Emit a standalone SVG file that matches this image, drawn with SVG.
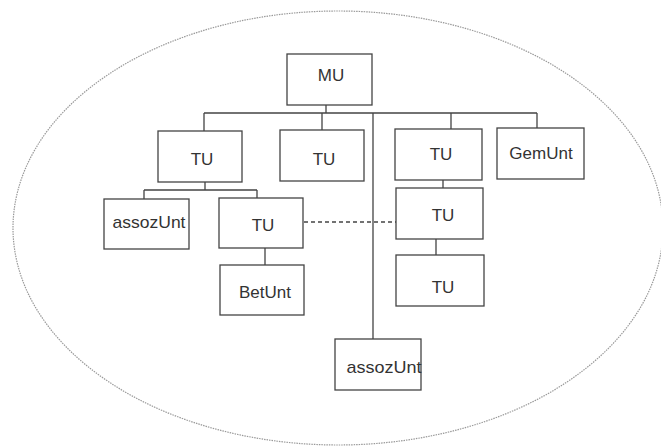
<svg xmlns="http://www.w3.org/2000/svg" width="661" height="447" viewBox="0 0 661 447">
<style>
.box{fill:#fff;stroke:#444;stroke-width:1.3}
.lbl{font-family:"Liberation Sans",Arial,sans-serif;font-size:17px;fill:#333;text-anchor:middle}
.ln{stroke:#444;stroke-width:1.3;fill:none}
.dash{stroke:#444;stroke-width:1.3;fill:none;stroke-dasharray:4 3}
</style>
<rect width="661" height="447" fill="#fff"/>
<ellipse id="boundary" cx="338" cy="228" rx="325" ry="217" fill="none" stroke="#999" stroke-width="1.2" stroke-dasharray="1.5 1"/>
<g id="connectors">
<path class="ln" d="M326,105 V113 M204,113 H537 M204,113 V131 M322,113 V130 M451,113 V129 M537,113 V128 M373,113 V339"/>
<path class="ln" d="M205,182 V190 M144,190 H257 M144,190 V199 M257,190 V198 M265,248 V265"/>
<path class="ln" d="M443,180 V188 M436,239 V255"/>
<path class="dash" d="M304,222 H396"/>
</g>
<g id="mu"><rect class="box" x="287" y="54" width="85" height="51"/><text class="lbl" x="331" y="81">MU</text></g>
<g id="tu1"><rect class="box" x="158" y="131" width="84" height="51"/><text class="lbl" x="202" y="165">TU</text></g>
<g id="tu2"><rect class="box" x="280" y="130" width="84" height="51"/><text class="lbl" x="324" y="165">TU</text></g>
<g id="tu3"><rect class="box" x="395" y="129" width="87" height="51"/><text class="lbl" x="441" y="160">TU</text></g>
<g id="gemunt"><rect class="box" x="497" y="128" width="87" height="51"/><text class="lbl" x="541" y="159">GemUnt</text></g>
<g id="assozunt1"><rect class="box" x="104" y="199" width="85" height="50"/><text class="lbl" x="149" y="228" textLength="73" lengthAdjust="spacingAndGlyphs">assozUnt</text></g>
<g id="tu4"><rect class="box" x="219" y="198" width="84" height="50"/><text class="lbl" x="263" y="231">TU</text></g>
<g id="betunt"><rect class="box" x="220" y="265" width="84" height="50"/><text class="lbl" x="265" y="298">BetUnt</text></g>
<g id="tu5"><rect class="box" x="396" y="188" width="87" height="51"/><text class="lbl" x="443" y="221">TU</text></g>
<g id="tu6"><rect class="box" x="396" y="255" width="88" height="51"/><text class="lbl" x="443" y="293">TU</text></g>
<g id="assozunt2"><rect class="box" x="335" y="339" width="86" height="51"/><text class="lbl" x="384" y="373" textLength="75" lengthAdjust="spacingAndGlyphs">assozUnt</text></g>
</svg>
